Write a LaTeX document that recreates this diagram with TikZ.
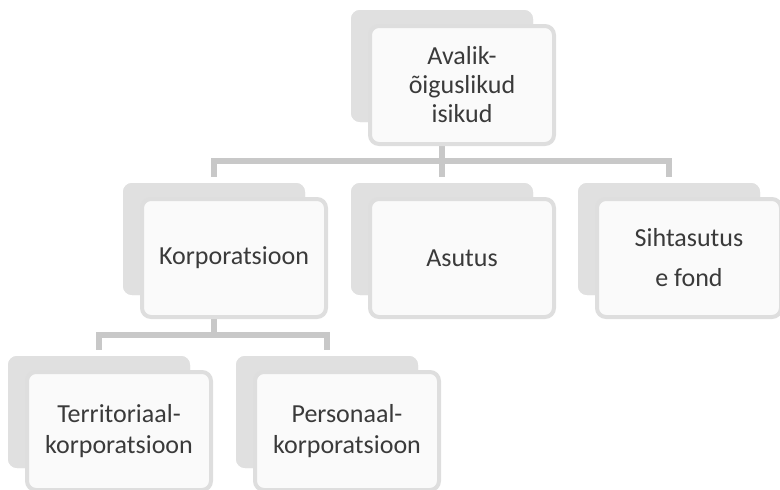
\documentclass[tikz,border=0pt]{standalone}
\usepackage{fontspec}
\setmainfont{Carlito}
\definecolor{backgray}{RGB}{224,224,224}
\definecolor{framegray}{RGB}{222,222,222}
\definecolor{frontfill}{RGB}{250,250,250}
\definecolor{linkgray}{RGB}{200,200,200}
\definecolor{txtgray}{RGB}{58,58,58}
\begin{document}
\begin{tikzpicture}[x=1pt,y=-1pt,
  backbox/.style={rectangle,rounded corners=9pt,fill=backgray,draw=none,minimum width=182pt,minimum height=112pt,inner sep=0pt},
  frontbox/.style={rectangle,rounded corners=9pt,fill=frontfill,draw=framegray,line width=4pt,minimum width=184pt,minimum height=118pt,inner sep=0pt,align=center,text=txtgray,font=\fontsize{26}{30}\selectfont},
  link/.style={draw=linkgray,line width=6pt}
]
\useasboundingbox (0,0) rectangle (780,490);
% junction points
\coordinate (j1) at (442,161);
\coordinate (j2) at (214,335);
% back boxes
\node[backbox] (topB) at (442,66) {};
\node[backbox] (korpB) at (214,239) {};
\node[backbox] (asuB) at (442,239) {};
\node[backbox] (sihtB) at (669,239) {};
\node[backbox] (terrB) at (99,412) {};
\node[backbox] (persB) at (327,412) {};
% connectors
\draw[link] (topB.south) -- (j1);
\draw[link,shorten >=6pt] (j1) -| (korpB.north);
\draw[link,shorten >=6pt] (j1) -- (asuB.north);
\draw[link,shorten >=6pt] (j1) -| (sihtB.north);
\draw[link] (korpB.south) -- (j2);
\draw[link,shorten >=6pt] (j2) -| (terrB.north);
\draw[link,shorten >=6pt] (j2) -| (persB.north);
% redraw back boxes over connector ends
\node[backbox] at (442,66) {};
\node[backbox] at (214,239) {};
\node[backbox] at (442,239) {};
\node[backbox] at (669,239) {};
\node[backbox] at (99,412) {};
\node[backbox] at (327,412) {};
% front boxes
\node[frontbox,font=\fontsize{26}{29}\selectfont] (top) at (462,85) {Avalik-\\õiguslikud\\isikud};
\node[frontbox] (korp) at (234,258) {Korporatsioon};
\node[frontbox] (asu) at (462,258) {Asutus};
\node[frontbox,font=\fontsize{26}{40}\selectfont] (siht) at (689,258) {Sihtasutus\\e fond};
\node[frontbox,font=\fontsize{26}{31}\selectfont] (terr) at (119,431) {Territoriaal-\\korporatsioon};
\node[frontbox,font=\fontsize{26}{31}\selectfont] (pers) at (347,431) {Personaal-\\korporatsioon};
\end{tikzpicture}
\end{document}
